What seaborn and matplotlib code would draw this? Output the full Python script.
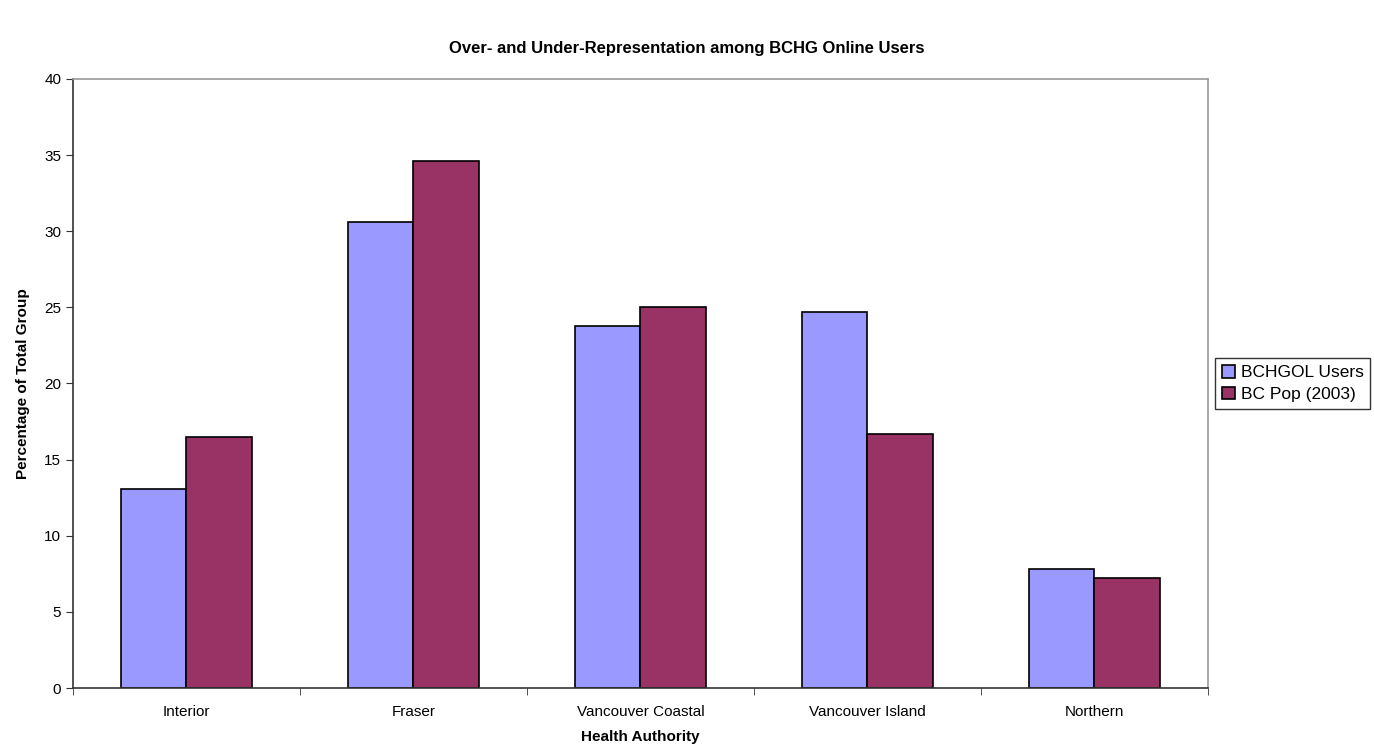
import pandas as pd
import seaborn as sns
import matplotlib.pyplot as plt

# Data
authorities = ['Interior', 'Fraser', 'Vancouver Coastal', 'Vancouver Island', 'Northern']
users = [13.1, 30.6, 23.8, 24.7, 7.8]
population = [16.5, 34.6, 25.0, 16.7, 7.2]
series = ['BCHGOL Users', 'BC Pop (2003)']

df = pd.DataFrame({
    'authority': authorities * 2,
    'value': users + population,
    'group': [series[0]] * len(authorities) + [series[1]] * len(authorities),
})

sns.set_style('white')
plt.rcParams['font.family'] = ['Liberation Sans', 'DejaVu Sans']
plt.rcParams['text.color'] = 'black'
plt.rcParams['axes.labelcolor'] = 'black'
plt.rcParams['xtick.color'] = 'black'
plt.rcParams['ytick.color'] = 'black'

fig = plt.figure(figsize=(13.74, 7.52), dpi=100)
ax = fig.add_axes([0.0531, 0.0851, 0.8260, 0.8099])

sns.barplot(data=df, x='authority', y='value', hue='group',
            palette=['#9999FF', '#993366'], saturation=1, width=0.575,
            edgecolor='black', linewidth=1.2, ax=ax)

ax.set_ylim(0, 40)
ax.set_xlim(-0.5, 4.5)
ax.set_yticks(range(0, 41, 5))
ax.set_xticks([x - 0.5 for x in range(6)], minor=True)
ax.tick_params(axis='x', which='major', length=0, labelsize=11, pad=12)
ax.tick_params(axis='x', which='minor', length=5, color='#333333', direction='out', bottom=True)
ax.tick_params(axis='y', length=5, color='#333333', direction='out', left=True, labelsize=11)

for side in ['left', 'bottom']:
    ax.spines[side].set_color('#333333')
    ax.spines[side].set_linewidth(1.2)
for side in ['top', 'right']:
    ax.spines[side].set_color('#999999')
    ax.spines[side].set_linewidth(1.2)

ax.set_xlabel('Health Authority', fontsize=11, fontweight='bold', labelpad=8)
ax.set_ylabel('Percentage of Total Group', fontsize=11, fontweight='bold', labelpad=10)
fig.suptitle('Over- and Under-Representation among BCHG Online Users',
             fontsize=12, fontweight='bold', x=0.5, y=0.936, va='center')

leg = ax.legend(loc='center left', bbox_to_anchor=(0.999, 0.5), frameon=True,
                fontsize=12.5, handlelength=0.75, handleheight=0.75,
                handletextpad=0.3, borderpad=0.4, labelspacing=0.35,
                fancybox=False, edgecolor='black')
leg.get_frame().set_linewidth(1.0)

fig.savefig('out.png', dpi=100)
